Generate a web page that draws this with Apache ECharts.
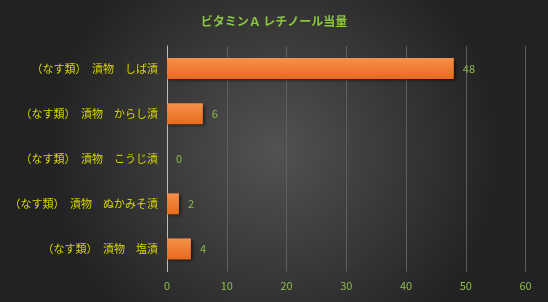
<!DOCTYPE html>
<html>
<head>
<meta charset="utf-8">
<script src="https://cdn.jsdelivr.net/npm/echarts@6/dist/echarts.min.js"></script>
<style>
html,body{margin:0;padding:0;}
#c{width:548px;height:302px;}
</style>
</head>
<body>
<div id="c"></div>
<script>
const title = 'ビタミンＡ レチノール当量';
const categories = [
  '（なす類）　漬物　しば漬',
  '（なす類）　漬物　からし漬',
  '（なす類）　漬物　こうじ漬',
  '（なす類）　漬物　ぬかみそ漬',
  '（なす類）　漬物　塩漬'
];
const values = [48, 6, 0, 2, 4];
const xTicks = {min: 0, max: 60, interval: 10};

const chart = echarts.init(document.getElementById('c'), null, {renderer: 'canvas'});
const font = '"Noto Sans CJK JP", "Noto Sans", sans-serif';
chart.setOption({
  backgroundColor: {
    type: 'radial', x: 0.5, y: 0.5, r: 0.75,
    colorStops: [
      {offset: 0, color: '#525252'},
      {offset: 1, color: '#222222'}
    ]
  },
  animation: false,
  title: {
    text: title,
    left: 'center',
    top: 10,
    textStyle: {color: '#8cc63f', fontSize: 12, fontWeight: 'bold', fontFamily: font}
  },
  grid: {left: 167, right: 22.5, top: 46, bottom: 30.5, containLabel: false},
  xAxis: {
    type: 'value',
    min: xTicks.min, max: xTicks.max, interval: xTicks.interval,
    axisLine: {show: false},
    axisTick: {show: false},
    splitLine: {show: true, lineStyle: {color: '#5e5e5e', width: 1}},
    axisLabel: {color: '#8dbb4e', fontSize: 11, fontFamily: font, margin: 9}
  },
  yAxis: {
    type: 'category',
    data: categories,
    inverse: true,
    axisLine: {show: true, lineStyle: {color: '#bdbdbd', width: 1}},
    axisTick: {show: false},
    axisLabel: {color: '#d6d600', fontSize: 11, fontFamily: font, margin: 9}
  },
  series: [{
    type: 'bar',
    data: values,
    barWidth: 21,
    itemStyle: {
      color: {
        type: 'linear', x: 0, y: 0, x2: 0, y2: 1,
        colorStops: [
          {offset: 0, color: '#f7904a'},
          {offset: 1, color: '#e86a1c'}
        ]
      },
      shadowColor: 'rgba(0,0,0,0.5)',
      shadowBlur: 3,
      shadowOffsetX: 2,
      shadowOffsetY: 2
    },
    label: {
      show: true,
      position: 'right',
      distance: 9,
      color: '#8dbb4e',
      fontSize: 11,
      fontFamily: font
    }
  }]
});
</script>
</body>
</html>
